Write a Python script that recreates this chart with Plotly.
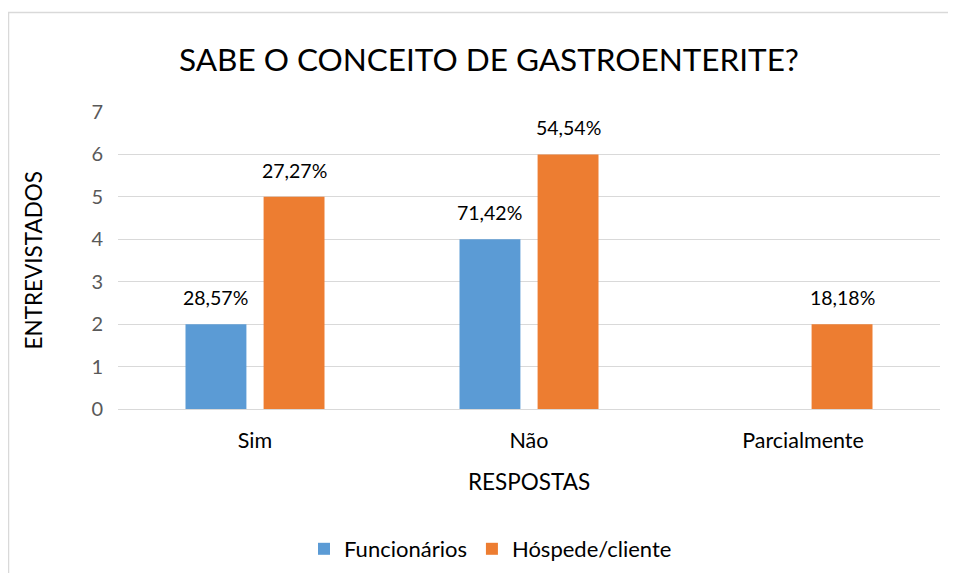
import plotly.graph_objects as go

categories = ["Sim", "Não", "Parcialmente"]
funcionarios = [2, 4, 0]
hospede = [5, 6, 2]
func_labels = ["28,57%", "71,42%", ""]
hosp_labels = ["27,27%", "54,54%", "18,18%"]

FONT = "Lato"
# page has an 8px body margin; figure coordinates are page minus 8
W, H = 940, 565
L, R, T, B = 110, 8, 104, 164
pw, ph = W - L - R, H - T - B
BARGAP, GROUPGAP = 0.43, 0.22
slot = pw / len(categories) * (1 - BARGAP) / 2

def px_x(px):
    return (px - L) / pw

def px_y(py):
    return (H - B - py) / ph

fig = go.Figure()
fig.add_trace(go.Bar(name="Funcionários", x=categories, y=funcionarios,
                     marker=dict(color="#5B9BD5", line=dict(width=0))))
fig.add_trace(go.Bar(name="Hóspede/cliente", x=categories, y=hospede,
                     marker=dict(color="#ED7D31", line=dict(width=0))))

annotations = []
for vals, labels, sign in ((funcionarios, func_labels, -1), (hospede, hosp_labels, 1)):
    for c, v, t in zip(categories, vals, labels):
        if t:
            annotations.append(dict(x=c, y=v, xref="x", yref="y", text=t, showarrow=False,
                                    xanchor="center", yanchor="bottom",
                                    xshift=sign * slot / 2, yshift=13,
                                    font=dict(family=FONT, size=19.5, color="#000000")))

annotations.append(dict(x=0.5, y=px_y(473), xref="paper", yref="paper", text="RESPOSTAS",
                        showarrow=False, xanchor="center", yanchor="middle",
                        font=dict(family=FONT, size=22.5, color="#000000")))
annotations.append(dict(x=px_x(25), y=0.5, xref="paper", yref="paper", text="ENTREVISTADOS",
                        showarrow=False, xanchor="center", yanchor="middle", textangle=-90,
                        font=dict(family=FONT, size=22.5, color="#000000")))

fig.update_layout(
    width=W, height=H,
    margin=dict(l=L, r=R, t=T, b=B, autoexpand=False),
    paper_bgcolor="white", plot_bgcolor="white",
    barmode="group", bargap=BARGAP, bargroupgap=GROUPGAP,
    title=dict(text="SABE O CONCEITO DE GASTROENTERITE?", x=481 / W, xanchor="center",
               y=1 - 52 / H, yanchor="middle",
               font=dict(family=FONT, size=31.5, color="#000000")),
    font=dict(family=FONT, color="#595959"),
    xaxis=dict(
        showgrid=False, showline=True, linecolor="#D9D9D9", linewidth=1,
        ticks="", ticklabelstandoff=12, automargin=False,
        tickfont=dict(family=FONT, size=21.5, color="#000000"),
    ),
    yaxis=dict(
        range=[0, 7], dtick=1, showgrid=True, gridcolor="#D9D9D9", gridwidth=1,
        zeroline=False, showline=False, ticks="", ticklabelstandoff=14, automargin=False,
        tickfont=dict(family=FONT, size=20, color="#595959"),
    ),
    legend=dict(orientation="h", x=px_x(296), xanchor="left", y=px_y(541), yanchor="middle",
                font=dict(family=FONT, size=22, color="#000000"), traceorder="normal"),
    showlegend=True,
    annotations=annotations,
    shapes=[
        dict(type="rect", xref="paper", yref="paper", x0=px_x(0.5), x1=px_x(W + 40),
             y0=px_y(4.5), y1=px_y(H + 40), line=dict(color="#D9D9D9", width=1.5),
             fillcolor="rgba(0,0,0,0)", layer="below"),
    ],
)

fig.write_html("out.html")
